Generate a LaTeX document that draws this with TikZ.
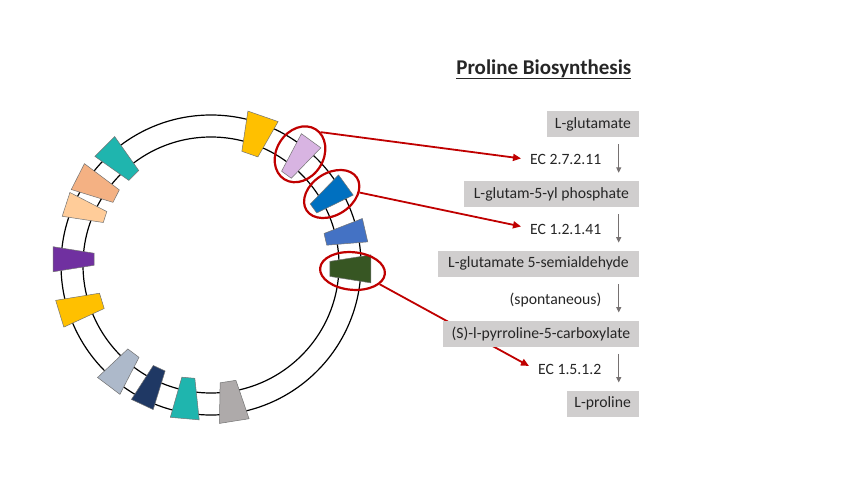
\documentclass[tikz,border=0pt]{standalone}
\usepackage{fontspec}
\setmainfont{Carlito}
\usetikzlibrary{arrows.meta,calc,shapes.geometric}
\definecolor{redc}{HTML}{C00000}
\definecolor{boxg}{HTML}{D0CECE}
\definecolor{arrg}{HTML}{767171}
\definecolor{txt}{HTML}{262626}
\definecolor{cYellow}{HTML}{FFC000}
\definecolor{cLav}{HTML}{D8B4E2}
\definecolor{cBlue}{HTML}{0070C0}
\definecolor{cMBlue}{HTML}{4472C4}
\definecolor{cGreen}{HTML}{375623}
\definecolor{cGray}{HTML}{AEAAAA}
\definecolor{cTeal}{HTML}{1FB5AE}
\definecolor{cNavy}{HTML}{1F3864}
\definecolor{cGBlue}{HTML}{ADB9CA}
\definecolor{cPurple}{HTML}{7030A0}
\definecolor{cLPeach}{HTML}{FFCC99}
\definecolor{cPeach}{HTML}{F4B183}
\begin{document}
\begin{tikzpicture}[x=1pt,y=1pt,
  ring/.style={draw=black, line width=1.2pt},
  blk/.style={draw=black!55, line width=0.5pt},
  ell/.style={shape=ellipse, draw=redc, line width=2.2pt, inner sep=0pt},
  lab/.style={font=\fontsize{15.7}{18}\selectfont, text=txt, inner sep=0pt, anchor=base east},
  pbox/.style={fill=boxg, text=txt, anchor=east, minimum height=26pt, inner xsep=2pt, inner ysep=0pt, font=\fontsize{15.7}{18}\selectfont},
  rarrow/.style={draw=redc, line width=1.8pt, -{Triangle[length=8pt,width=7pt]}},
  garrow/.style={draw=arrg, line width=1.1pt, -{Triangle[length=5.5pt,width=5pt]}}]
\useasboundingbox (0,0) rectangle (850,-478);
\fill[white] (0,0) rectangle (850,-478);
\coordinate (C) at (211,-265);
\draw[ring] (C) circle[radius=150pt];
\draw[ring] (C) circle[radius=128pt];
\foreach \th/\r/\ph/\L/\wo/\wi/\col in {
70.7/137.5/70.8/40/32/17/cYellow,
50.7/138.6/54/42/24/12/cLav,
29.9/136.9/36/40/25/11/cBlue,
12.7/137.6/13/40.7/24/12/cMBlue,
-1.6/139.4/0/41/28/15/cGreen,
-81.6/137.8/-81/40/30/16/cGray,
-100.4/135.4/-95/41/29/13/cTeal,
-116.4/135.5/-115/40/24/13/cNavy,
-130.7/137.9/-127/41/28/14/cGBlue,
-162/136.9/-163/44/28/16/cYellow,
177.6/137.4/180/41/25/12/cPurple,
156.6/136.7/162/41/25/11.5/cLPeach,
145.4/138.5/153/43/29/14/cPeach,
131.4/138.7/135/41/28/14/cTeal}
{
  \begin{scope}[shift={(C)}, shift={(\th:\r)}, rotate=\ph]
    \filldraw[blk, fill=\col] ({-\L/2},{-\wi/2}) -- ({\L/2},{-\wo/2}) -- ({\L/2},{\wo/2}) -- ({-\L/2},{\wi/2}) -- cycle;
  \end{scope}
}
% red ellipses
\node[ell, minimum width=59pt, minimum height=47pt, rotate=58] (e1) at (300,-154.3) {};
\node[ell, minimum width=60pt, minimum height=42pt, rotate=33] (e2) at (331.7,-194) {};
\node[ell, minimum width=65pt, minimum height=37.6pt, rotate=-5] (e3) at (352.5,-271) {};
% EC labels
\node[lab] (ec1) at (601.5,-164.5) {EC 2.7.2.11};
\node[lab] (ec2) at (601.5,-234) {EC 1.2.1.41};
\node[lab] (sp) at (601.5,-304) {(spontaneous)};
\node[lab] (ec4) at (601.5,-374) {EC 1.5.1.2};
% red arrows
\draw[rarrow] (e1.-11) -- ([xshift=-9pt,yshift=1pt]ec1.west);
\draw[rarrow] (e2.-30) -- ([xshift=-9pt,yshift=2.5pt]ec2.west);
\draw[rarrow] (e3.-21) -- ([xshift=-9pt,yshift=3pt]ec4.west);
% boxes
\node[pbox, minimum width=91.7pt] (b1) at (639,-124.2) {L-glutamate};
\node[pbox, minimum width=174.7pt] (b2) at (639,-194) {L-glutam-5-yl phosphate};
\node[pbox, minimum width=200.7pt] (b3) at (639,-263.8) {L-glutamate 5-semialdehyde};
\node[pbox, minimum width=195.7pt] (b4) at (639,-333.7) {(S)-l-pyrroline-5-carboxylate};
\node[pbox, minimum width=72.3pt] (b5) at (639,-403.7) {L-proline};
% gray arrows
\draw[garrow] ($(b1.south east)+(-20.3,-7)$) -- ($(b2.north east)+(-20.3,8)$);
\draw[garrow] ($(b2.south east)+(-20.3,-7)$) -- ($(b3.north east)+(-20.3,8)$);
\draw[garrow] ($(b3.south east)+(-20.3,-7)$) -- ($(b4.north east)+(-20.3,8)$);
\draw[garrow] ($(b4.south east)+(-20.3,-7)$) -- ($(b5.north east)+(-20.3,8)$);
% title
\node[font=\fontsize{21}{25}\selectfont\bfseries, text=txt, inner sep=0pt, anchor=base] (t) at (543.8,-75) {Proline Biosynthesis};
\draw[line width=1.3pt, txt] ([yshift=-3.7pt]t.base west) -- ([yshift=-3.7pt]t.base east);
\end{tikzpicture}
\end{document}
